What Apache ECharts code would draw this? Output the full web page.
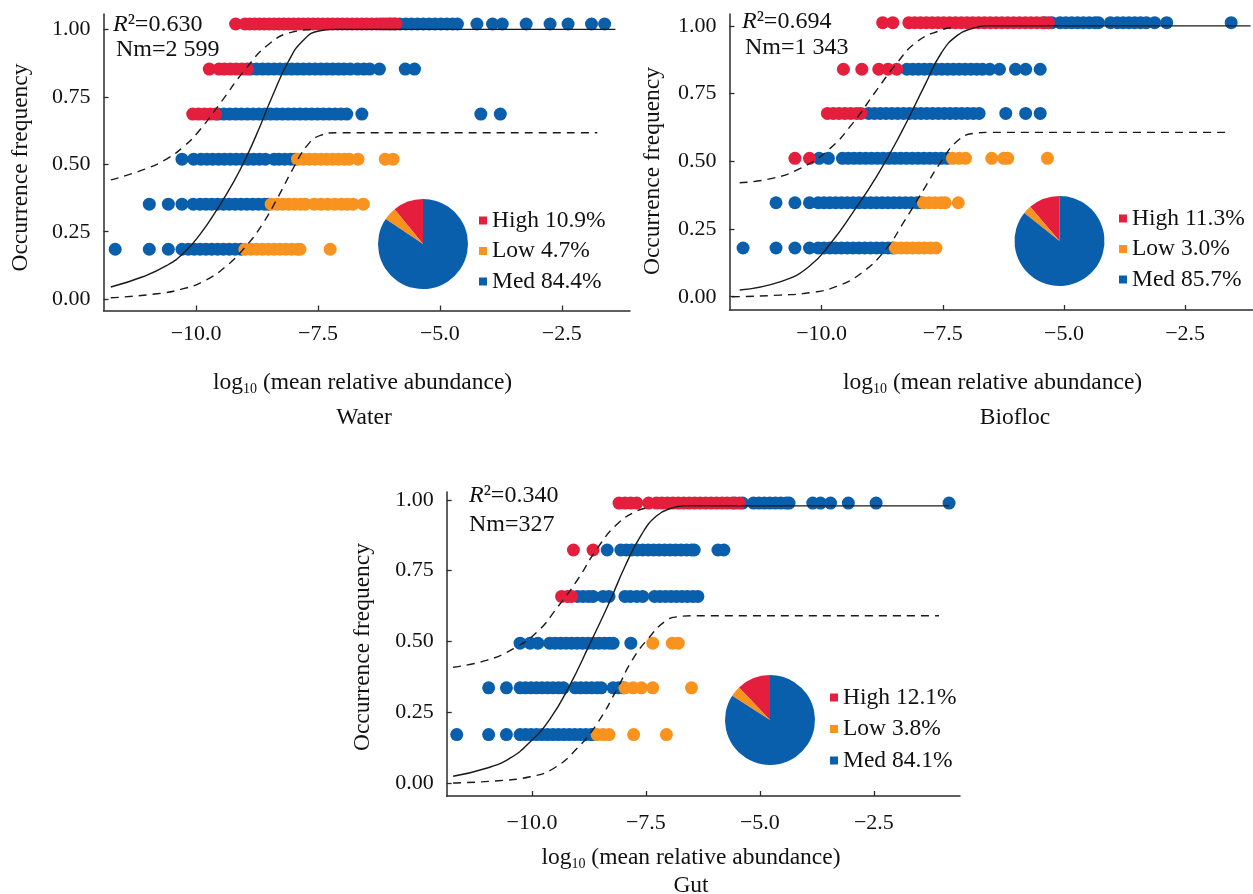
<!DOCTYPE html>
<html><head><meta charset="utf-8">
<script src="https://cdn.jsdelivr.net/npm/echarts@6/dist/echarts.min.js"></script>
<style>html,body{margin:0;padding:0;background:#fff}#c{width:1253px;height:894px}</style>
</head><body><div id="c"></div>
<script>
// ---------------- DATA ----------------
const panelNames = ['Water', 'Biofloc', 'Gut'];
const statR2 = ['0.630', '0.694', '0.340'];
const statNm = ['2 599', '1 343', '327'];
const pieClasses = ['High', 'Low', 'Med'];
const waterPie = [10.9, 4.7, 84.4];
const bioPie = [11.3, 3.0, 85.7];
const gutPie = [12.1, 3.8, 84.1];
const xTickValues = [-10, -7.5, -5, -2.5];
const yTickValues = [0, 0.25, 0.5, 0.75, 1];

// Water
const waterRows = [1.02, 0.853, 0.686, 0.519, 0.352, 0.185];
const waterHighX = [
  [-9.19,-9.0,-8.9,-8.8,-8.7,-8.6,-8.5,-8.4,-8.3,-8.2,-8.1,-8.0,-7.9,-7.8,-7.7,-7.6,-7.5,-7.4,-7.3,-7.2,-7.1,-7.0,-6.9,-6.8,-6.7,-6.6,-6.5,-6.4,-6.3,-6.22,-6.1,-6.0,-5.9],
  [-9.73,-9.53,-9.42,-9.3,-9.18,-9.06,-8.95],
  [-10.07,-9.95,-9.83,-9.71,-9.6],
  [], [], []
];
const waterMedX = [
  [-6.16,-6.04,-5.94,-5.82,-5.7,-5.58,-5.46,-5.34,-5.22,-5.1,-4.98,-4.86,-4.74,-4.64,-4.24,-3.92,-3.72,-3.23,-2.74,-2.37,-1.89,-1.62],
  [-8.88,-8.76,-8.64,-8.52,-8.4,-8.28,-8.16,-8.04,-7.92,-7.8,-7.68,-7.56,-7.44,-7.32,-7.2,-7.08,-6.97,-6.84,-6.69,-6.56,-6.44,-6.24,-5.71,-5.52],
  [-9.55,-9.43,-9.31,-9.19,-9.07,-8.95,-8.83,-8.71,-8.59,-8.47,-8.35,-8.23,-8.11,-7.99,-7.87,-7.75,-7.63,-7.51,-7.39,-7.27,-7.15,-7.03,-6.91,-6.6,-4.16,-3.76],
  [-10.29,-10.05,-9.9,-9.78,-9.66,-9.54,-9.42,-9.3,-9.18,-9.06,-8.94,-8.82,-8.7,-8.58,-8.4,-8.3,-8.18,-8.06,-7.97],
  [-10.96,-10.57,-10.29,-10.06,-9.92,-9.8,-9.68,-9.56,-9.44,-9.32,-9.2,-9.08,-8.96,-8.84,-8.72,-8.6,-8.52],
  [-11.66,-10.96,-10.57,-10.29,-10.16,-10.04,-9.92,-9.8,-9.68,-9.56,-9.44,-9.32,-9.2,-9.08]
];
const waterLowX = [
  [], [], [],
  [-7.92,-7.8,-7.68,-7.56,-7.44,-7.32,-7.2,-7.08,-6.96,-6.86,-6.68,-6.12,-5.96],
  [-8.46,-8.34,-8.22,-8.1,-7.98,-7.86,-7.76,-7.58,-7.44,-7.3,-7.16,-7.02,-6.9,-6.78,-6.57],
  [-9.0,-8.88,-8.76,-8.64,-8.52,-8.4,-8.28,-8.16,-8.04,-7.92,-7.87,-7.25]
];
const waterFit = [[-11.75,0.045],[-11.08,0.084],[-10.6,0.125],[-10.26,0.17],[-9.92,0.24],[-9.58,0.33],[-9.23,0.435],[-8.96,0.53],[-8.68,0.645],[-8.43,0.755],[-8.11,0.88],[-7.8,0.96],[-7.46,0.995],[-7.13,1.0],[-1.4,1.0]];
const waterUpper = [[-11.75,0.442],[-11.05,0.482],[-10.6,0.52],[-10.26,0.565],[-9.98,0.615],[-9.49,0.73],[-9.0,0.85],[-8.51,0.945],[-8.03,0.99],[-7.6,1.0]];
const waterLower = [[-11.75,0.005],[-10.8,0.02],[-10.3,0.037],[-9.85,0.066],[-9.4,0.12],[-9.0,0.192],[-8.65,0.275],[-8.3,0.385],[-8.0,0.488],[-7.72,0.57],[-7.45,0.607],[-7.1,0.617],[-1.77,0.617]];

// Biofloc
const bioRows = [1.012, 0.84, 0.677, 0.511, 0.347, 0.18];
const bioHighX = [
  [-8.74,-8.53,-8.2,-8.08,-7.96,-7.84,-7.72,-7.6,-7.48,-7.36,-7.24,-7.12,-7.0,-6.88,-6.76,-6.64,-6.52,-6.4,-6.28,-6.16,-6.04,-5.92,-5.8,-5.68,-5.56,-5.44,-5.32],
  [-9.55,-9.17,-8.82,-8.63,-8.45],
  [-9.88,-9.76,-9.64,-9.52,-9.4,-9.28,-9.19],
  [-10.55,-10.25],
  [], []
];
const bioMedX = [
  [-5.4,-5.25,-5.08,-4.96,-4.84,-4.72,-4.6,-4.48,-4.36,-4.29,-4.04,-3.9,-3.78,-3.66,-3.54,-3.42,-3.3,-3.13,-2.88,-1.55],
  [-8.24,-8.12,-8.0,-7.88,-7.76,-7.64,-7.52,-7.4,-7.28,-7.16,-7.04,-6.92,-6.8,-6.68,-6.53,-6.33,-6.0,-5.79,-5.49],
  [-9.03,-8.91,-8.79,-8.67,-8.55,-8.43,-8.31,-8.19,-8.07,-7.95,-7.83,-7.71,-7.59,-7.47,-7.35,-7.23,-7.11,-6.99,-6.87,-6.75,-6.2,-5.79,-5.49],
  [-10.05,-9.86,-9.57,-9.45,-9.33,-9.21,-9.09,-8.97,-8.85,-8.73,-8.61,-8.49,-8.37,-8.25,-8.13,-8.01,-7.89,-7.77,-7.65,-7.53,-7.41],
  [-10.94,-10.55,-10.25,-10.07,-9.95,-9.83,-9.71,-9.59,-9.47,-9.35,-9.23,-9.11,-8.99,-8.87,-8.75,-8.63,-8.51,-8.39,-8.27,-8.15,-8.03,-7.95],
  [-11.62,-10.94,-10.55,-10.25,-10.07,-9.95,-9.83,-9.71,-9.59,-9.47,-9.35,-9.23,-9.11,-8.99,-8.87,-8.75,-8.63,-8.53]
];
const bioLowX = [
  [], [], [],
  [-7.3,-7.16,-7.03,-6.49,-6.24,-6.16,-5.34],
  [-7.9,-7.78,-7.66,-7.54,-7.45,-7.18],
  [-8.48,-8.36,-8.24,-8.12,-8.0,-7.88,-7.76,-7.64]
];
const bioFit = [[-11.69,0.025],[-10.86,0.055],[-10.27,0.11],[-9.78,0.205],[-9.36,0.31],[-8.86,0.445],[-8.36,0.605],[-7.86,0.785],[-7.53,0.9],[-7.2,0.965],[-6.87,0.992],[-6.6,1.0],[-1.15,1.0]];
const bioUpper = [[-11.69,0.421],[-11.02,0.437],[-10.44,0.474],[-9.86,0.542],[-9.36,0.64],[-8.86,0.764],[-8.45,0.862],[-8.03,0.942],[-7.53,0.985],[-7.3,0.995]];
const bioLower = [[-11.85,0.0],[-10.86,0.006],[-10.19,0.016],[-9.69,0.038],[-9.19,0.086],[-8.69,0.172],[-8.28,0.283],[-7.86,0.406],[-7.53,0.5],[-7.2,0.575],[-6.87,0.603],[-6.53,0.607],[-1.67,0.607]];

// Gut
const gutRows = [0.989, 0.823, 0.659, 0.494, 0.336, 0.171];
const gutHighX = [
  [-8.09,-7.96,-7.83,-7.7,-7.44,-7.27,-7.15,-7.03,-6.91,-6.79,-6.67,-6.55,-6.43,-6.31,-6.19,-6.07,-5.95,-5.83,-5.72,-5.6,-5.45],
  [-9.09,-8.66],
  [-9.35,-9.22,-9.13],
  [], [], []
];
const gutMedX = [
  [-5.55,-5.38,-5.14,-5.02,-4.9,-4.78,-4.66,-4.54,-4.42,-4.36,-3.84,-3.67,-3.45,-3.06,-2.45,-0.85],
  [-8.35,-8.05,-7.93,-7.81,-7.69,-7.57,-7.45,-7.33,-7.21,-7.09,-6.97,-6.85,-6.73,-6.61,-6.5,-6.44,-5.92,-5.79],
  [-9.0,-8.88,-8.76,-8.66,-8.44,-8.31,-7.96,-7.84,-7.7,-7.57,-7.31,-7.19,-7.07,-6.95,-6.83,-6.71,-6.59,-6.47,-6.36],
  [-10.26,-10.04,-9.87,-9.61,-9.49,-9.37,-9.25,-9.13,-9.01,-8.89,-8.77,-8.65,-8.53,-8.41,-8.3,-8.22,-7.83],
  [-10.95,-10.56,-10.26,-10.14,-10.02,-9.9,-9.78,-9.66,-9.54,-9.42,-9.31,-9.05,-8.93,-8.81,-8.69,-8.57,-8.48,-8.22,-8.1,-8.0],
  [-11.65,-10.95,-10.56,-10.26,-10.14,-10.02,-9.9,-9.78,-9.66,-9.54,-9.42,-9.3,-9.18,-9.06,-8.94,-8.82,-8.7,-8.66]
];
const gutLowX = [
  [], [], [],
  [-7.35,-6.92,-6.79],
  [-7.96,-7.78,-7.6,-7.35,-6.5],
  [-8.57,-8.44,-8.31,-7.77,-7.05]
];
const gutFit = [[-11.73,0.024],[-11.0,0.052],[-10.48,0.088],[-10.04,0.145],[-9.61,0.225],[-9.18,0.342],[-8.74,0.488],[-8.31,0.635],[-7.96,0.765],[-7.61,0.874],[-7.27,0.943],[-6.92,0.972],[-6.66,0.979],[-0.85,0.979]];
const gutUpper = [[-11.73,0.409],[-11.0,0.433],[-10.39,0.476],[-9.87,0.536],[-9.44,0.621],[-9.0,0.718],[-8.57,0.828],[-8.14,0.913],[-7.7,0.961],[-7.44,0.972]];
const gutLower = [[-11.73,0.0],[-10.74,0.008],[-10.04,0.022],[-9.52,0.052],[-9.0,0.124],[-8.57,0.21],[-8.14,0.33],[-7.79,0.437],[-7.44,0.512],[-7.09,0.57],[-6.83,0.587],[-6.4,0.591],[-1.07,0.591]];

// ---------------- LAYOUT / STYLE ----------------
const FONT = '"Liberation Serif", "Times New Roman", serif';
const COL = { High: '#E41E3C', Low: '#F7931E', Med: '#0A5FAC' };
const TXT = '#111';
const layouts = [
  { left: 103.5, top: 14, width: 526.5, height: 296.5, xmin: -11.9, xmax: -1.1, ymin: -0.042, ymax: 1.057, xm: 13,
    pie: [423, 244], leg: [474, 203.5, 6.5], r2: [113, 25], nm: [116, 50], xt: [362.6, 383], yt: [21, 167.5], nameP: [364, 418] },
  { left: 729.5, top: 14, width: 523, height: 296, xmin: -11.9, xmax: -1.11, ymin: -0.049, ymax: 1.044, xm: 13,
    pie: [1059.5, 241], leg: [1114, 201.5, 6.5], r2: [742, 22], nm: [745, 48], xt: [992.6, 383], yt: [653, 171], nameP: [1015, 418] },
  { left: 446.7, top: 492, width: 513.3, height: 304, xmin: -11.87, xmax: -0.61, ymin: -0.046, ymax: 1.028, xm: 16,
    pie: [770, 720], leg: [825, 680.5, 7.5], r2: [469, 496], nm: [469, 525], xt: [691, 858], yt: [362.5, 647], nameP: [691, 886] }
];
const panels = [
  { rows: waterRows, high: waterHighX, med: waterMedX, low: waterLowX, fit: waterFit, up: waterUpper, lo: waterLower, pie: waterPie },
  { rows: bioRows, high: bioHighX, med: bioMedX, low: bioLowX, fit: bioFit, up: bioUpper, lo: bioLower, pie: bioPie },
  { rows: gutRows, high: gutHighX, med: gutMedX, low: gutLowX, fit: gutFit, up: gutUpper, lo: gutLower, pie: gutPie }
];

function rowsToPoints(rows, xs) {
  const out = [];
  xs.forEach((arr, i) => arr.forEach(x => out.push([x, rows[i]])));
  return out;
}
const fmtX = v => (v < 0 ? '\u2212' : '') + Math.abs(v).toFixed(1);
const fmtY = v => v.toFixed(2);

const grid = [], xAxis = [], yAxis = [], series = [], legend = [], graphic = [];
panels.forEach((p, i) => {
  const L = layouts[i];
  grid.push({ left: L.left, top: L.top, width: L.width, height: L.height, containLabel: false });
  xAxis.push({
    type: 'value', gridIndex: i, min: L.xmin, max: L.xmax,
    axisLine: { show: true, onZero: false, lineStyle: { color: '#2b2b2b', width: 1.5 } },
    axisTick: { show: true, inside: true, length: 5, customValues: xTickValues, lineStyle: { color: '#2b2b2b', width: 1.3 } },
    axisLabel: { customValues: xTickValues, formatter: fmtX, margin: L.xm, color: TXT, fontFamily: FONT, fontSize: 22 },
    splitLine: { show: false }
  });
  yAxis.push({
    type: 'value', gridIndex: i, min: L.ymin, max: L.ymax,
    axisLine: { show: true, onZero: false, lineStyle: { color: '#2b2b2b', width: 1.5 } },
    axisTick: { show: true, inside: true, length: 5, customValues: yTickValues, lineStyle: { color: '#2b2b2b', width: 1.3 } },
    axisLabel: { customValues: yTickValues, formatter: fmtY, margin: 13, color: TXT, fontFamily: FONT, fontSize: 22 },
    splitLine: { show: false }
  });
  const sc = (name, xs) => ({
    type: 'scatter', name: name, xAxisIndex: i, yAxisIndex: i, symbolSize: 13, z: 2,
    itemStyle: { color: COL[name], opacity: 1 }, silent: true,
    data: rowsToPoints(p.rows, xs)
  });
  series.push(sc('Med', p.med), sc('High', p.high), sc('Low', p.low));
  const ln = (data, dashed) => ({
    type: 'line', xAxisIndex: i, yAxisIndex: i, data: data, symbol: 'none', smooth: 0.5,
    z: 4, silent: true,
    lineStyle: { color: '#1a1a1a', width: 1.4, type: dashed ? [8, 6] : 'solid' }
  });
  series.push(ln(p.fit, false), ln(p.up, true), ln(p.lo, true));
  const names = pieClasses.map((c, k) => c + ' ' + p.pie[k].toFixed(1) + '%');
  series.push({
    type: 'pie', center: L.pie, radius: 45, startAngle: 90, clockwise: false, z: 5, silent: true,
    label: { show: false }, labelLine: { show: false },
    data: pieClasses.map((c, k) => ({ name: names[k], value: p.pie[k], itemStyle: { color: COL[c] } }))
  });
  legend.push({
    data: names, orient: 'vertical', left: L.leg[0], top: L.leg[1], itemGap: L.leg[2],
    itemWidth: 8, itemHeight: 8, icon: 'rect', selectedMode: false,
    textStyle: { fontFamily: FONT, fontSize: 23.5, color: TXT, lineHeight: 23 }
  });
  graphic.push(
    { type: 'text', x: L.r2[0], y: L.r2[1], style: { text: '{i|R}\u00B2=' + statR2[i], rich: { i: { fontStyle: 'italic', fontFamily: FONT, fontSize: 24, fill: TXT } },
      fontFamily: FONT, fontSize: 24, fill: TXT, align: 'left', verticalAlign: 'middle' } },
    { type: 'text', x: L.nm[0], y: L.nm[1], style: { text: 'Nm=' + statNm[i], fontFamily: FONT, fontSize: 24, fill: TXT, align: 'left', verticalAlign: 'middle' } },
    { type: 'text', x: L.xt[0], y: L.xt[1], style: { text: '{a|log}{b|10}{a| (mean relative abundance)}',
      rich: { a: { fontFamily: FONT, fontSize: 23.5, fill: TXT }, b: { fontFamily: FONT, fontSize: 14, fill: TXT, padding: [12, 0, 0, 0] } },
      fontFamily: FONT, fontSize: 23.5, fill: TXT, align: 'center', verticalAlign: 'middle' } },
    { type: 'text', x: L.yt[0], y: L.yt[1], rotation: Math.PI / 2, style: { text: 'Occurrence frequency', fontFamily: FONT, fontSize: 23.5, fill: TXT, align: 'center', verticalAlign: 'middle' } },
    { type: 'text', x: L.nameP[0], y: L.nameP[1], style: { text: panelNames[i], fontFamily: FONT, fontSize: 23.5, fill: TXT, align: 'center', verticalAlign: 'middle' } }
  );
});

const chart = echarts.init(document.getElementById('c'));
chart.setOption({ animation: false, backgroundColor: '#fff', grid, xAxis, yAxis, series, legend, graphic });
</script>
</body></html>
